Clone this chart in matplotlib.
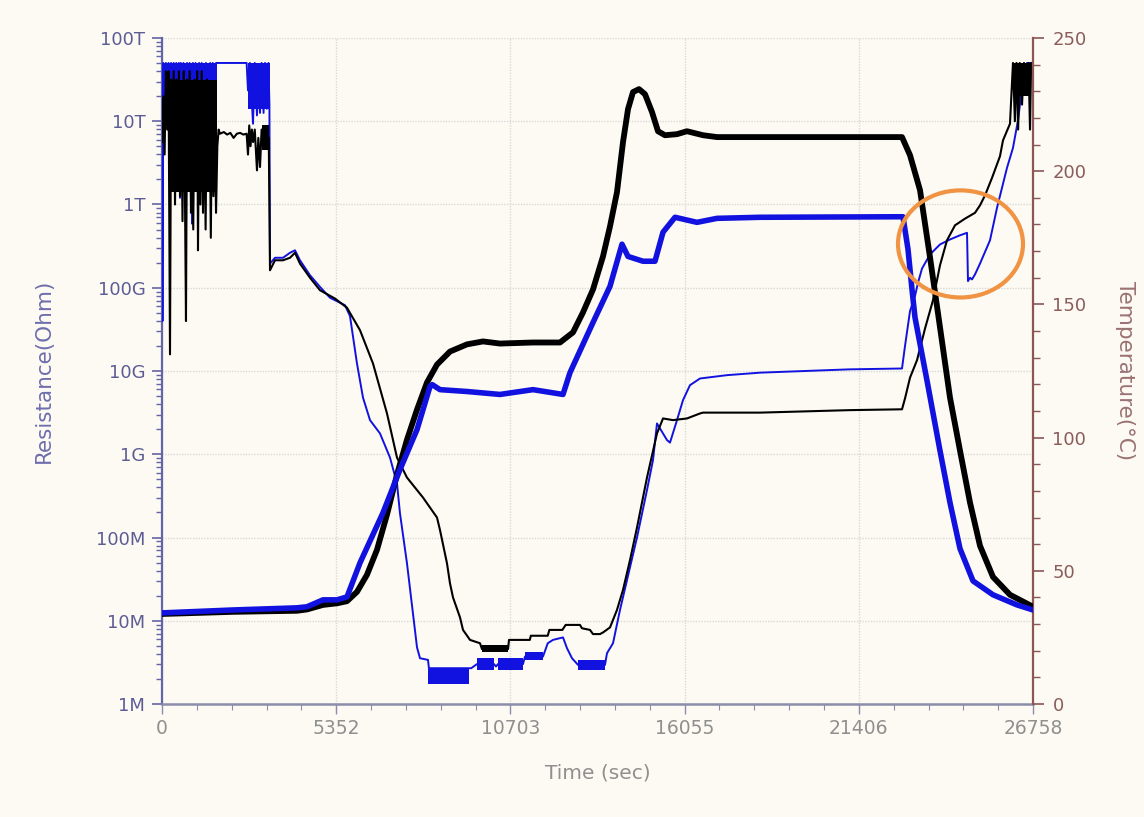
import matplotlib
matplotlib.use("Agg")
import matplotlib.pyplot as plt
import numpy as np
from matplotlib.patches import Ellipse
from matplotlib.ticker import FixedLocator, NullFormatter

# ---------------- data ----------------
x_ticks = [0, 5352, 10703, 16055, 21406, 26758]
x_tick_labels = ["0", "5352", "10703", "16055", "21406", "26758"]
res_tick_exp = [6, 7, 8, 9, 10, 11, 12, 13, 14]
res_tick_labels = ["1M", "10M", "100M", "1G", "10G", "100G", "1T", "10T", "100T"]
temp_ticks = [0, 50, 100, 150, 200, 250]

# black resistance (thin) : time (s), log10(Ohm)
black_res_t = [0, 40, 80, 120, 160, 200, 246, 280, 320, 360,
               400, 440, 480, 520, 553, 590, 630, 670, 700, 737,
               770, 810, 850, 890, 922, 960, 1000, 1040, 1080, 1106,
               1140, 1180, 1220, 1260, 1300, 1340, 1380, 1420, 1460, 1500,
               1540, 1580, 1620, 1660, 1700, 1740, 1780, 1900, 2000, 2100,
               2200, 2300, 2400, 2500, 2600, 2642, 2680, 2720, 2760, 2800,
               2850, 2918, 2960, 3011, 3060, 3110, 3164, 3220, 3280,
               3318, 3471, 3717, 3932, 4086, 4239, 4547, 4854, 5315, 5683,
               6083, 6482, 6912, 7219, 7526, 8018, 8448, 8540, 8755, 8847,
               8940, 9155, 9247, 9462, 9769, 9830, 10630, 10660, 11300, 11330,
               11850, 11900, 12300, 12400, 12841, 12900, 13148, 13240, 13455, 13550,
               13763, 13977, 14162, 14378, 14592, 14899, 15206, 15391, 15698, 16128,
               16527, 16620, 18371, 21135, 22733, 22825, 22979, 23194, 23440, 23685,
               23900, 24115, 24361, 24668, 24975, 25129, 25283, 25498, 25743, 25835,
               26050, 26142, 26200, 26250, 26300, 26350, 26420, 26480, 26560, 26620,
               26665, 26700, 26758]
black_res_log10 = [12.75, 13.3, 12.6, 13.6, 12.9, 13.6, 10.2, 13.5, 12.5, 13.6,
                   12.0, 13.5, 12.3, 13.6, 12.1, 13.4, 11.8, 13.6, 12.4, 10.6,
                   13.5, 12.2, 13.6, 11.9, 13.4, 11.7, 13.5, 12.3, 13.6, 11.45,
                   13.3, 12.0, 13.6, 11.9, 13.2, 11.7, 13.5, 12.2, 13.3, 11.6,
                   13.4, 12.1, 13.0, 11.9, 12.7, 12.9, 12.85, 12.87, 12.84, 12.86,
                   12.8, 12.85, 12.86, 12.84, 12.85, 12.6, 12.95, 12.7, 12.9, 12.75,
                   12.9, 12.41, 12.8, 12.45, 12.9, 12.7, 12.85, 12.75, 12.8,
                   11.21, 11.33, 11.33, 11.36, 11.42, 11.29, 11.12, 10.97, 10.87, 10.76,
                   10.49, 10.09, 9.49, 8.96, 8.72, 8.48, 8.24, 8.09, 7.69, 7.45,
                   7.28, 7.04, 6.89, 6.77, 6.73, 6.66, 6.66, 6.77, 6.77, 6.82,
                   6.82, 6.89, 6.89, 6.95, 6.95, 6.91, 6.89, 6.84, 6.84, 6.86,
                   6.92, 7.13, 7.37, 7.73, 8.12, 8.72, 9.25, 9.43, 9.41, 9.43,
                   9.49, 9.50, 9.50, 9.53, 9.54, 9.67, 9.92, 10.13, 10.51, 10.85,
                   11.27, 11.57, 11.75, 11.83, 11.90, 11.99, 12.11, 12.32, 12.58, 12.77,
                   12.97, 13.7, 13.0, 13.7, 12.9, 13.7, 13.2, 13.7, 13.4, 13.7,
                   12.9, 13.7, 13.7]
# black resistance: envelopes of the rapidly switching (noisy / quantised) parts
black_band_t0 = [230, 3060, 9830, 26142]
black_band_t1 = [1700, 3290, 10630, 26700]
black_band_lo = [12.15, 12.65, 6.62, 13.3]
black_band_hi = [13.5, 12.95, 6.71, 13.7]

# blue resistance (thin)
blue_res_t = [0, 15, 40, 80, 120, 160, 200, 246, 280, 320,
              360, 400, 440, 480, 520, 553, 580, 620, 660, 700,
              737, 770, 810, 850, 890, 922, 950, 990, 1030, 1070,
              1106, 1140, 1180, 1220, 1260, 1321, 1350, 1390, 1444, 1480,
              1520, 1560, 1600, 1628, 1660, 1720, 2600, 2642, 2700, 2796,
              2850, 2918, 2960, 3011, 3060, 3120, 3164, 3220, 3270, 3300,
              3318, 3471, 3717, 3932, 4086, 4239, 4547, 4854, 5161, 5622,
              5775, 5990, 6175, 6390, 6697, 7004, 7219, 7311, 7526, 7711,
              7834, 7926, 8172,
              8200, 9431, 9500, 9677, 10199, 10260, 10322, 11090, 11151, 11704,
              11850, 12011, 12319, 12442, 12595, 12780, 13609, 13670, 13855, 14070,
              14285, 14592, 14899, 15084, 15206, 15514, 15606, 15821, 16005, 16220,
              16527, 17357, 18371, 21135, 22733,
              22825, 22979, 23132, 23224, 23347, 23593, 23900, 24207, 24515, 24730,
              24760, 24822, 24883, 24975, 25129, 25436, 25651, 25958, 26142, 26296,
              26419, 26573, 26758]
blue_res_log10 = [13.5, 10.6, 13.7, 13.3, 13.7, 13.2, 13.7, 13.16, 13.7, 13.3,
                  13.7, 13.25, 13.7, 13.4, 13.7, 12.08, 13.7, 13.3, 13.7, 13.35,
                  11.69, 13.7, 13.25, 13.7, 13.3, 11.77, 13.7, 13.2, 13.7, 13.3,
                  12.29, 13.7, 13.2, 13.7, 13.35, 12.49, 13.7, 13.3, 12.89, 13.7,
                  13.4, 13.7, 13.45, 13.28, 13.7, 13.7, 13.7, 13.37, 13.7, 12.97,
                  13.7, 13.07, 13.6, 13.1, 13.7, 13.1, 13.7, 13.15, 13.7, 13.2,
                  11.29, 11.36, 11.36, 11.42, 11.45, 11.33, 11.15, 11.01, 10.88, 10.79,
                  10.66, 10.09, 9.68, 9.41, 9.25, 8.96, 8.65, 8.29, 7.69, 7.09,
                  6.68, 6.55, 6.53,
                  6.43, 6.43, 6.43, 6.48, 6.48, 6.45, 6.48, 6.48, 6.57, 6.57,
                  6.73, 6.77, 6.80, 6.67, 6.55, 6.47, 6.47, 6.61, 6.73, 7.13,
                  7.49, 8.00, 8.57, 8.93, 9.37, 9.17, 9.14, 9.41, 9.65, 9.83,
                  9.91, 9.95, 9.98, 10.02, 10.03,
                  10.30, 10.72, 10.90, 11.06, 11.23, 11.40, 11.52, 11.58, 11.63, 11.66,
                  11.08, 11.12, 11.10, 11.16, 11.29, 11.57, 11.96, 12.44, 12.68, 13.01,
                  13.40, 13.70, 13.70]
# blue resistance: envelopes of the rapidly switching parts
blue_band_t0 = [0, 2640, 8172, 9677, 10322, 11151, 12780]
blue_band_t1 = [1700, 3318, 9431, 10199, 11090, 11704, 13609]
blue_band_lo = [13.25, 13.15, 6.24, 6.41, 6.41, 6.53, 6.41]
blue_band_hi = [13.7, 13.7, 6.43, 6.55, 6.55, 6.62, 6.53]

# black temperature (thick) : time (s), degC
black_temp_t = [0, 2181, 4147, 4454, 4946, 5376, 5683, 5990, 6297, 6605,
                6912, 7219, 7526, 7834, 8141, 8448, 8847, 9370, 9861, 10383,
                11397, 12227, 12626, 12933, 13240, 13547, 13763, 13977, 14162, 14316,
                14469, 14654, 14838, 15053, 15237, 15452, 15821, 16128, 16620, 17050,
                18371, 22733, 22979, 23286, 23593, 23900, 24207, 24515, 24822, 25129,
                25528, 26050, 26758]
black_temp = [33.8, 34.6, 35.0, 35.5, 37.2, 37.8, 38.6, 42.1, 48.5, 57.9,
              71.1, 86.1, 99.2, 110.5, 120.7, 127.4, 132.3, 135.0, 136.1, 135.3,
              135.7, 135.7, 139.5, 147.0, 155.6, 168.0, 179.3, 192.1, 210.9, 223.3,
              229.7, 230.8, 228.9, 222.2, 215.0, 213.5, 213.9, 215.0, 213.5, 212.8,
              212.8, 212.8, 206.0, 192.9, 167.7, 141.4, 115.0, 95.1, 75.6, 59.4,
              47.7, 41.0, 36.5]

# blue temperature (thick)
blue_temp_t = [0, 2181, 4147, 4454, 4946, 5376, 5683, 6083, 6789, 7311,
               7834, 8233, 8300, 8540, 9370, 10383, 11397, 12319, 12534, 13240,
               13763, 14131, 14316, 14776, 15145, 15391, 15760, 16435, 17050, 18371,
               22763, 22917, 23040, 23132, 23501, 23900, 24207, 24515, 24914, 25528,
               26265, 26758]
blue_temp = [34.2, 35.3, 36.1, 36.5, 39.1, 39.1, 40.2, 53.0, 71.8, 88.0,
             103.0, 119.2, 119.9, 118.0, 117.3, 116.2, 118.0, 116.2, 124.4, 143.2,
             156.8, 172.6, 168.0, 166.2, 166.2, 177.1, 182.7, 180.8, 182.3, 182.7,
             182.9, 170.7, 155.6, 145.1, 121.4, 95.1, 75.6, 58.3, 46.2, 41.0,
             37.2, 35.3]

# orange highlight ellipse (time s, temperature degC)
mark_center = (24530, 172.7)
mark_size = (3840, 40.2)

# ---------------- styling ----------------
BG = "#fcfaf2"
BLUE = "#1212e0"
LEFT_C = "#6464a8"
LEFT_TXT = "#5d5d96"
RIGHT_C = "#8a5656"
RIGHT_TXT = "#8a5c5c"
X_TXT = "#8f8f8f"

fig = plt.figure(figsize=(11.44, 8.17), dpi=100, facecolor=BG)
ax = fig.add_axes([0.1416, 0.1383, 0.7614, 0.8152])
ax.set_facecolor(BG)
ax2 = ax.twinx()

ax.plot(blue_res_t, 10 ** np.array(blue_res_log10), color=BLUE, lw=1.4, zorder=3)
for t0, t1, lo, hi in zip(blue_band_t0, blue_band_t1, blue_band_lo, blue_band_hi):
    ax.fill_between([t0, t1], [10 ** lo] * 2, [10 ** hi] * 2, color=BLUE, lw=0, zorder=3)
ax.plot(black_res_t, 10 ** np.array(black_res_log10), color="black", lw=1.5, zorder=4)
for t0, t1, lo, hi in zip(black_band_t0, black_band_t1, black_band_lo, black_band_hi):
    ax.fill_between([t0, t1], [10 ** lo] * 2, [10 ** hi] * 2, color="black", lw=0, zorder=4)

ax2.plot(black_temp_t, black_temp, color="black", lw=4.2, zorder=3,
         solid_joinstyle="round")
ax2.plot(blue_temp_t, blue_temp, color=BLUE, lw=4.0, zorder=4, solid_joinstyle="round")

ax2.add_patch(Ellipse(mark_center, mark_size[0], mark_size[1], fill=False,
                      edgecolor="#f09343", lw=3.0, zorder=6))

ax.set_yscale("log")
ax.set_ylim(1e6, 1e14)
ax.set_xlim(0, 26758)
ax2.set_ylim(0, 250)

ax.yaxis.set_major_locator(FixedLocator([10.0 ** e for e in res_tick_exp]))
ax.set_yticklabels(res_tick_labels)
minor = [m * 10.0 ** e for e in res_tick_exp[:-1] for m in range(2, 10)]
ax.yaxis.set_minor_locator(FixedLocator(minor))
ax.yaxis.set_minor_formatter(NullFormatter())

ax.xaxis.set_major_locator(FixedLocator(x_ticks))
ax.set_xticklabels(x_tick_labels)
ax.xaxis.set_minor_locator(FixedLocator(list(np.linspace(0, 26758, 26))))

ax2.yaxis.set_major_locator(FixedLocator(temp_ticks))
ax2.yaxis.set_minor_locator(FixedLocator(list(range(0, 251, 10))))

ax.grid(True, which="major", color="#d9d9d9", linestyle=(0, (1, 1)), lw=1.0, zorder=0)

for a in (ax, ax2):
    a.spines["top"].set_visible(False)
ax.spines["right"].set_visible(False)
ax2.spines["left"].set_visible(False)
ax2.spines["bottom"].set_visible(False)
ax.spines["left"].set_color(LEFT_C)
ax.spines["left"].set_linewidth(1.6)
ax.spines["bottom"].set_color("#8c8cab")
ax.spines["bottom"].set_linewidth(1.8)
ax2.spines["right"].set_color(RIGHT_C)
ax2.spines["right"].set_linewidth(1.6)

ax.tick_params(axis="y", which="major", direction="out", length=7, width=1.2,
               color=LEFT_C, labelcolor=LEFT_TXT, labelsize=13, pad=5)
ax.tick_params(axis="y", which="minor", direction="out", length=4, width=1.0, color=LEFT_C)
ax.tick_params(axis="x", which="major", direction="out", length=7, width=1.0,
               color="#8c8cab", labelcolor=X_TXT, labelsize=13.5, pad=4)
ax.tick_params(axis="x", which="minor", direction="out", length=4, width=0.8, color="#8c8cab")
ax2.tick_params(axis="y", which="major", direction="out", length=8, width=1.2,
                color=RIGHT_C, labelcolor=RIGHT_TXT, labelsize=13, pad=6)
ax2.tick_params(axis="y", which="minor", direction="out", length=5, width=1.0, color=RIGHT_C)

ax.set_ylabel("Resistance(Ohm)", color="#6e6eae", fontsize=15.5, labelpad=30)
ax2.set_ylabel("Temperature(°C)", color="#9a7272", fontsize=15.5, labelpad=20, rotation=270,
               va="bottom")
ax.set_xlabel("Time (sec)", color=X_TXT, fontsize=14.5, labelpad=18)

fig.savefig("out.png", dpi=100, facecolor=BG)
